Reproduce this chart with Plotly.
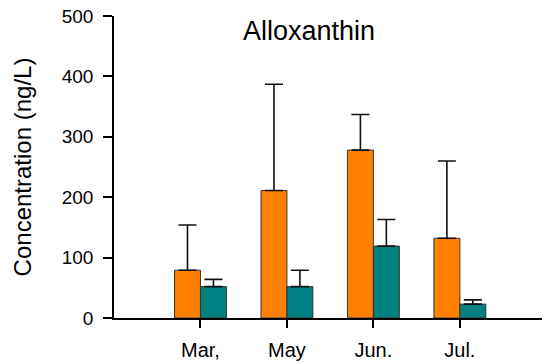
import plotly.graph_objects as go

months = ["Mar,", "May", "Jun.", "Jul."]
orange_vals = [79, 211, 278, 132]
orange_upper = [154, 387, 337, 260]
teal_vals = [52, 52, 119, 23]
teal_upper = [64, 79, 163, 30]

xpos = list(range(len(months)))
FONT = "Arial, Liberation Sans, sans-serif"

def err(vals, upper):
    return [u - v for v, u in zip(vals, upper)]

fig = go.Figure()
fig.add_trace(go.Bar(
    x=xpos, y=orange_vals, name="A",
    marker=dict(color="#FF8000", line=dict(color="#333333", width=1)),
    error_y=dict(type="data", symmetric=False, array=err(orange_vals, orange_upper),
                 arrayminus=[0] * len(months), color="#111111", thickness=1.6, width=9),
))
fig.add_trace(go.Bar(
    x=xpos, y=teal_vals, name="B",
    marker=dict(color="#008080", line=dict(color="#333333", width=1)),
    error_y=dict(type="data", symmetric=False, array=err(teal_vals, teal_upper),
                 arrayminus=[0] * len(months), color="#111111", thickness=1.6, width=9),
))

fig.update_layout(
    width=543, height=363,
    margin=dict(l=114, r=1, t=16, b=45),
    paper_bgcolor="white", plot_bgcolor="white",
    barmode="group", bargap=0.4, bargroupgap=0,
    showlegend=False,
    font=dict(family=FONT, color="black"),
    xaxis=dict(
        range=[-1, 3.95], tickmode="array", tickvals=xpos, ticktext=months,
        showline=True, linecolor="black", linewidth=1.5,
        ticks="outside", ticklen=8, tickwidth=1.5, tickcolor="black",
        showgrid=False, zeroline=False, tickfont=dict(size=20, family=FONT),
        ticklabelstandoff=5, automargin=False,
    ),
    yaxis=dict(
        range=[0, 500], tickvals=[0, 100, 200, 300, 400, 500],
        showline=True, linecolor="black", linewidth=1.5,
        ticks="outside", ticklen=9, tickwidth=1.5, tickcolor="black",
        showgrid=False, zeroline=False, tickfont=dict(size=19, family=FONT),
        ticklabelstandoff=6, automargin=False,
        title=dict(text="Concentration (ng/L)", font=dict(size=24, family=FONT), standoff=23),
    ),
    annotations=[dict(
        text="Alloxanthin", xref="paper", yref="y", x=0.456, y=475,
        xanchor="center", yanchor="middle", showarrow=False,
        font=dict(size=27, family=FONT, color="black"),
    )],
)

fig.write_html("out.html", config={"displayModeBar": False},
               post_script="document.body.style.margin='0px';")
